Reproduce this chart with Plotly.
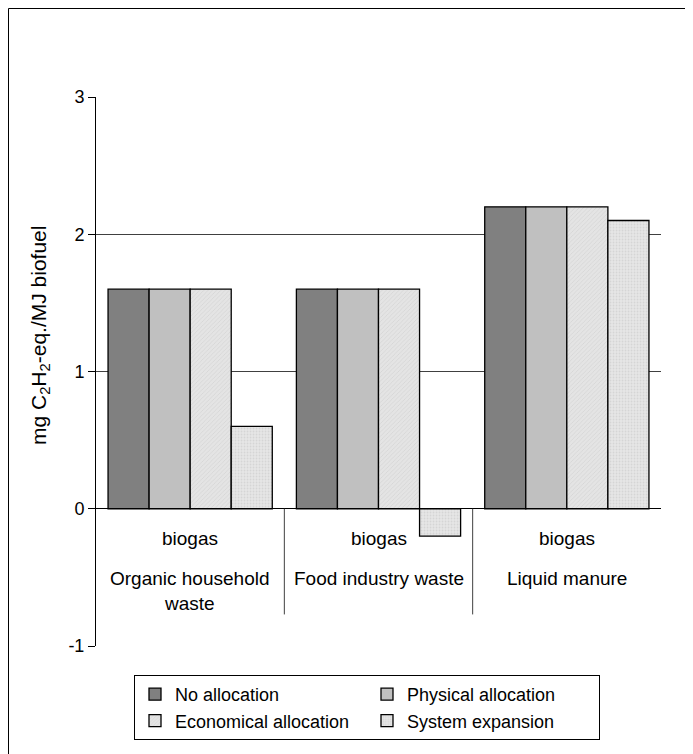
import plotly.graph_objects as go

# ---- data ----
categories = ["Organic household waste", "Food industry waste", "Liquid manure"]
category_labels = ["Organic household<br>waste", "Food industry waste", "Liquid manure"]
fuel_labels = ["biogas", "biogas", "biogas"]
series_names = ["No allocation", "Physical allocation", "Economical allocation", "System expansion"]
no_allocation = [1.6, 1.6, 2.2]
physical_allocation = [1.6, 1.6, 2.2]
economical_allocation = [1.6, 1.6, 2.2]
system_expansion = [0.6, -0.2, 2.1]
y_ticks = [-1, 0, 1, 2, 3]
y_ticktext = ["-1", "0", "1", "2", "3"]
y_title = "mg C<sub>2</sub>H<sub>2</sub>-eq./MJ biofuel"

FONT = "Liberation Sans, Arial, sans-serif"

# ---- geometry (pixels, page coordinates; page = figure + 8px body margin) ----
OFF = 8
W, H = 693, 754
L, R, T, B = 96 - OFF, 661 - OFF, 97 - OFF, 646 - OFF
ML, MR, MT, MB = L, W - R, T, H - B
PW, PH = R - L, B - T


def px_x(p):
    return (p - OFF - L) / PW


def px_y(p):
    return (B - (p - OFF)) / PH


def fx(p):
    return (p - L) / PW


def fy(p):
    return (B - p) / PH


series_values = [no_allocation, physical_allocation, economical_allocation, system_expansion]
styles = [
    dict(color="#808080"),
    dict(color="#c0c0c0"),
    dict(color="#e4e4e4", pattern=dict(shape="/", fgcolor="#c4c4c4", bgcolor="#e4e4e4", size=3, solidity=0.25)),
    dict(color="#e4e4e4", pattern=dict(shape=".", fgcolor="#c4c4c4", bgcolor="#e6e6e6", size=3, solidity=0.3)),
]

fig = go.Figure()
for name, vals, st in zip(series_names, series_values, styles):
    marker = dict(line=dict(color="black", width=1.3))
    marker.update(st)
    fig.add_trace(go.Bar(x=categories, y=vals, name=name, marker=marker))

shapes = []
# category dividers below the zero line
for xb in [0.5, 1.5]:
    shapes.append(dict(type="line", xref="x", yref="y", x0=xb, x1=xb, y0=0, y1=-0.77,
                       line=dict(color="#404040", width=1)))
# outer chart border (figure edge)
shapes.append(dict(type="rect", xref="paper", yref="paper",
                   x0=fx(0.5), x1=fx(W - 0.5), y0=fy(H - 0.5), y1=fy(0.5),
                   line=dict(color="black", width=1)))

annotations = []
for cat, fuel, lab in zip(categories, fuel_labels, category_labels):
    annotations.append(dict(x=cat, y=-0.215, xref="x", yref="y", text=fuel, showarrow=False,
                            font=dict(family=FONT, size=19, color="black"), yanchor="middle"))
    annotations.append(dict(x=cat, y=-0.415, xref="x", yref="y", text=lab, showarrow=False,
                            font=dict(family=FONT, size=19, color="black"), yanchor="top"))
# y-axis title
annotations.append(dict(x=px_x(40), y=px_y(336), xref="paper", yref="paper", text=y_title,
                        textangle=-90, showarrow=False, xanchor="center", yanchor="middle",
                        font=dict(family=FONT, size=21, color="black")))

fig.update_layout(
    width=W, height=H,
    margin=dict(l=ML, r=MR, t=MT, b=MB, autoexpand=False),
    paper_bgcolor="white", plot_bgcolor="white",
    barmode="group", bargap=0.128, bargroupgap=0,
    font=dict(family=FONT, size=18, color="black"),
    showlegend=True,
    legend=dict(orientation="h", x=px_x(134), y=px_y(675), xanchor="left", yanchor="top",
                bordercolor="black", borderwidth=1, bgcolor="white",
                entrywidth=187, entrywidthmode="pixels",
                font=dict(family=FONT, size=18, color="black"), traceorder="normal"),
    shapes=shapes,
    annotations=annotations,
)

fig.update_xaxes(range=[-0.5, 2.5], showticklabels=False, showgrid=False, zeroline=False,
                 showline=False, ticks="")
fig.update_yaxes(range=[-1, 3], tickvals=y_ticks, ticktext=y_ticktext, ticks="outside", ticklen=7,
                 tickcolor="black",
                 showline=True, linecolor="black", linewidth=1,
                 showgrid=True, gridcolor="#404040", gridwidth=1,
                 zeroline=True, zerolinecolor="black", zerolinewidth=1.3,
                 tickfont=dict(family=FONT, size=18, color="black"))

fig.write_html("out.html")
